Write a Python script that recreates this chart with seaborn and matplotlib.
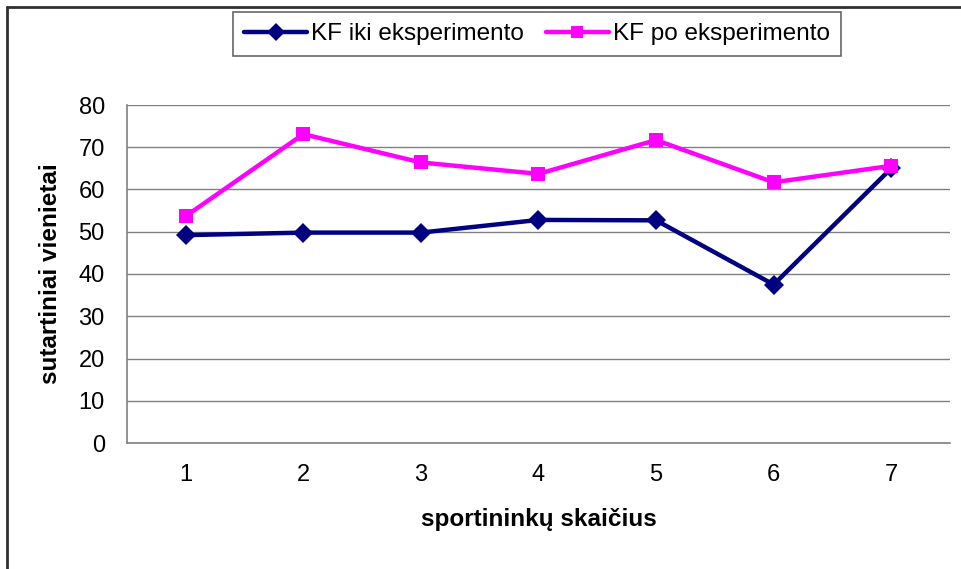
import matplotlib
matplotlib.use("Agg")
import matplotlib.pyplot as plt
import seaborn as sns
import pandas as pd
from matplotlib.lines import Line2D

athletes = [1, 2, 3, 4, 5, 6, 7]
before = [49.2, 49.8, 49.8, 52.8, 52.7, 37.5, 65.0]
after = [53.7, 73.1, 66.4, 63.7, 71.7, 61.7, 65.6]
series_names = ["KF iki eksperimento", "KF po eksperimento"]
colors = ["#000080", "#FF00FF"]

df = pd.DataFrame({
    "sportininkai": athletes * 2,
    "reiksme": before + after,
    "serija": [series_names[0]] * 7 + [series_names[1]] * 7,
})

sns.set_style("white")
plt.rcParams["font.family"] = ["Liberation Sans", "DejaVu Sans"]
plt.rcParams["text.color"] = "black"
plt.rcParams["axes.labelcolor"] = "black"
plt.rcParams["xtick.color"] = "black"
plt.rcParams["ytick.color"] = "black"

fig = plt.figure(figsize=(9.62, 5.69), dpi=100)
ax = fig.add_axes([127 / 962, 1 - 443 / 569, (950 - 127) / 962, (443 - 105) / 569])

sns.lineplot(data=df, x="sportininkai", y="reiksme", hue="serija",
             style="serija", markers=["D", "s"], dashes=False,
             palette=colors, markersize=10, linewidth=3.2,
             markeredgewidth=0, ax=ax, legend=False)

ax.set_xlim(0.5, 7.5)
ax.set_ylim(0, 80)
ax.set_yticks(range(0, 81, 10))
ax.set_xticks(athletes)
ax.set_xticks([i + 0.5 for i in range(0, 8)], minor=True)
ax.tick_params(axis="x", which="major", length=0, pad=15, labelsize=17)
ax.tick_params(axis="x", which="minor", length=7, width=1, color="#808080", direction="out")
ax.tick_params(axis="y", length=7, width=1, color="#808080", direction="out", pad=9, labelsize=17)
ax.yaxis.grid(True, color="#808080", linewidth=1)
ax.xaxis.grid(False)
for side in ["top", "right"]:
    ax.spines[side].set_visible(False)
for side in ["left", "bottom"]:
    ax.spines[side].set_color("#808080")
    ax.spines[side].set_linewidth(1.2)

ax.set_xlabel("sportininkų skaičius", fontsize=17.5, fontweight="bold", labelpad=16)
ax.set_ylabel("sutartiniai vienietai", fontsize=17.5, fontweight="bold", labelpad=12)

handles = [
    Line2D([], [], color=colors[0], marker="D", markersize=9, linewidth=3.2, markeredgewidth=0),
    Line2D([], [], color=colors[1], marker="s", markersize=9, linewidth=3.2, markeredgewidth=0),
]
leg = fig.legend(handles, series_names, loc="center", bbox_to_anchor=(537 / 962, 1 - 34 / 569),
                 ncol=2, fontsize=17.5, frameon=True, fancybox=False, handlelength=2.6,
                 handletextpad=0.15, columnspacing=0.9, borderpad=0.45)
leg.get_frame().set_edgecolor("#404040")
leg.get_frame().set_linewidth(1.2)

# outer chart border (top and left edges visible)
fig.add_artist(Line2D([7 / 962, 7 / 962], [0, 1 - 7 / 569], transform=fig.transFigure,
                      color="#303030", linewidth=2))
fig.add_artist(Line2D([7 / 962, 1], [1 - 7 / 569, 1 - 7 / 569], transform=fig.transFigure,
                      color="#303030", linewidth=2))

fig.savefig("out.png", dpi=100)
